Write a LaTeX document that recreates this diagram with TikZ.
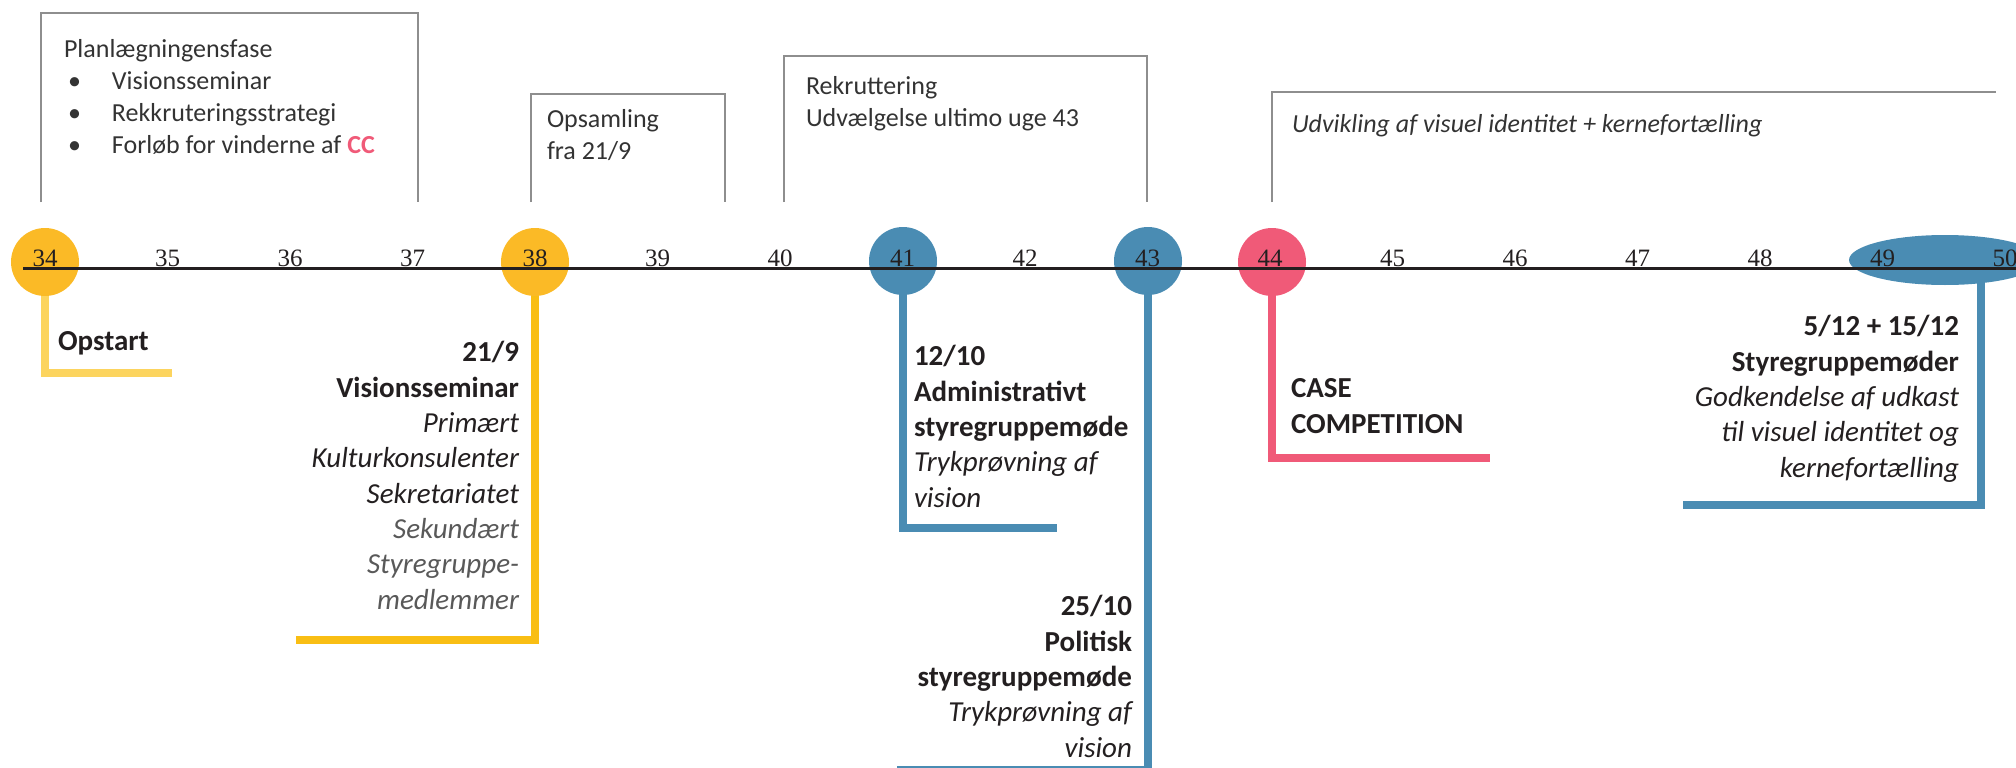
\documentclass[tikz,border=0pt]{standalone}
\usepackage{fontspec}
\setmainfont{Carlito}
\newfontfamily\weekfont{Liberation Serif}
\usetikzlibrary{shapes.geometric}
\definecolor{ink}{HTML}{231F20}
\definecolor{boxgray}{HTML}{8E8E8E}
\definecolor{ylw}{HTML}{FBBA26}
\definecolor{ylwstem}{HTML}{F9BE14}
\definecolor{ylwlight}{HTML}{FCD45E}
\definecolor{blu}{HTML}{4A8CB3}
\definecolor{pnk}{HTML}{F05A78}
\definecolor{txtgray}{HTML}{333333}
\definecolor{subgray}{HTML}{595959}
\begin{document}
\begin{tikzpicture}[x=1pt,y=-1pt,
  every node/.style={inner sep=0pt, outer sep=0pt},
  weekdot/.style={circle, minimum size=68pt, fill=#1},
  weeknum/.style={font=\weekfont\fontsize{25}{30}\selectfont, text=ink, anchor=base},
  phasebox/.style={draw=boxgray, line width=2.5pt},
  phasetext/.style={font=\fontsize{26}{31.7}\selectfont, text=txtgray, align=left, anchor=base west},
  stemline/.style={draw=#1, line width=8pt, line join=miter},
  evtext/.style={font=\fontsize{29}{35.3}\selectfont, text=ink},
]
\useasboundingbox (0,0) rectangle (2016,768);

% phase boxes
\draw[phasebox] (41,202) |- (418,13) -- (418,202);
\draw[phasebox] (531,202) |- (725,94) -- (725,202);
\draw[phasebox] (784,202) |- (1147,56) -- (1147,202);
\draw[phasebox] (1272,202) |- (1996,92);

\node[phasetext] (p1) at (64,153) {Planlægningensfase\\
\hspace*{4pt}\makebox[44pt][l]{•}Visionsseminar\\
\hspace*{4pt}\makebox[44pt][l]{•}Rekkruteringsstrategi\\
\hspace*{4pt}\makebox[44pt][l]{•}Forløb for vinderne af {\bfseries\color{pnk}CC}};
\node[phasetext] (p2) at (547,159) {Opsamling\\fra 21/9};
\node[phasetext] (p3) at (806,126) {Rekruttering\\Udvælgelse ultimo uge 43};
\node[phasetext, font=\fontsize{26}{31.7}\selectfont\itshape] (p4) at (1292,132) {Udvikling af visuel identitet + kernefortælling};

% week dots
\node[weekdot=ylw] (c34) at (45,262) {};
\node[weekdot=ylw] (c38) at (535,262) {};
\node[weekdot=blu] (c41) at (903,261) {};
\node[weekdot=blu] (c43) at (1148,261) {};
\node[weekdot=pnk] (c44) at (1272,262) {};
\node[ellipse, minimum width=192pt, minimum height=50pt, fill=blu] (e49) at (1945,260) {};

% stems
\coordinate (s34) at (172,373);
\coordinate (s38) at (296,640);
\coordinate (s41) at (1057,528);
\coordinate (s43) at (897,770);
\coordinate (s44) at (1490,458);
\coordinate (t49) at (1981,282);
\coordinate (s49) at (1683,505);
\draw[stemline=ylwlight] (c34.south) |- (s34);
\draw[stemline=ylwstem] (c38.south) |- (s38);
\draw[stemline=blu] (c41.south) |- (s41);
\draw[stemline=blu] (c43.south) |- (s43);
\draw[stemline=pnk] (c44.south) |- (s44);
\draw[stemline=blu] (t49) |- (s49);

% timeline
\coordinate (tl0) at (23,268);
\coordinate (tl1) at (2016,268);
\draw[ink, line width=3pt] (tl0) -- (tl1);

% week numbers
\foreach \w [count=\i from 0] in {34,...,50} {
  \node[weeknum] (w\w) at (45+122.5*\i,266) {\w};
}

% event texts
\node[evtext, anchor=base west] (o34) at (58,350) {\bfseries Opstart};
\node[evtext, anchor=base east, align=right] (o38) at (519,609) {{\bfseries 21/9}\\
{\bfseries Visionsseminar}\\
{\itshape Primært}\\
{\itshape Kulturkonsulenter}\\
{\itshape Sekretariatet}\\
{\itshape\color{subgray}Sekundært}\\
{\itshape\color{subgray}Styregruppe-}\\
{\itshape\color{subgray}medlemmer}};
\node[evtext, anchor=base west, align=left] (o41) at (914,507) {{\bfseries 12/10}\\
{\bfseries Administrativt}\\
{\bfseries styregruppemøde}\\
{\itshape Trykprøvning af}\\
{\itshape vision}};
\node[evtext, anchor=base east, align=right] (o43) at (1132,757) {{\bfseries 25/10}\\
{\bfseries Politisk}\\
{\bfseries styregruppemøde}\\
{\itshape Trykprøvning af}\\
{\itshape vision}};
\node[evtext, anchor=base west, align=left] (o44) at (1291,433) {{\bfseries CASE}\\
{\bfseries COMPETITION}};
\node[evtext, anchor=base east, align=right] (o49) at (1959,477) {{\bfseries 5/12 + 15/12}\\
{\bfseries Styregruppemøder}\\
{\itshape Godkendelse af udkast}\\
{\itshape til visuel identitet og}\\
{\itshape kernefortælling}};
\end{tikzpicture}
\end{document}
